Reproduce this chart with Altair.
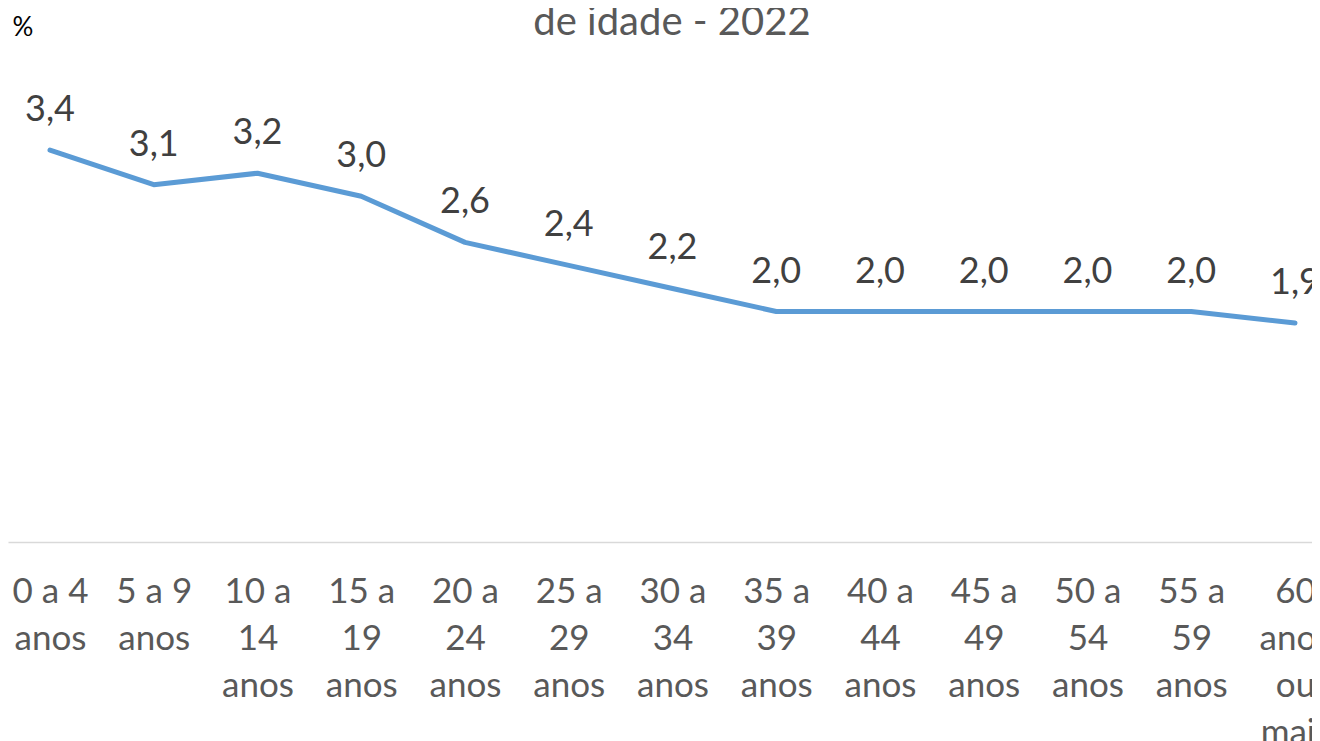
import altair as alt
import pandas as pd

categories = ["0 a 4 anos", "5 a 9 anos", "10 a 14 anos", "15 a 19 anos", "20 a 24 anos",
              "25 a 29 anos", "30 a 34 anos", "35 a 39 anos", "40 a 44 anos", "45 a 49 anos",
              "50 a 54 anos", "55 a 59 anos", "60 anos ou mais"]
label_lines = ["0 a 4|anos", "5 a 9|anos", "10 a|14|anos", "15 a|19|anos", "20 a|24|anos",
               "25 a|29|anos", "30 a|34|anos", "35 a|39|anos", "40 a|44|anos", "45 a|49|anos",
               "50 a|54|anos", "55 a|59|anos", "60|anos|ou|mais"]
values = [3.4, 3.1, 3.2, 3.0, 2.6, 2.4, 2.2, 2.0, 2.0, 2.0, 2.0, 2.0, 1.9]

df = pd.DataFrame({"grupo": categories, "valor": values})

label_map = "{" + ",".join(f"'{c}': '{l}'" for c, l in zip(categories, label_lines)) + "}"

FONT = "Lato"

x_enc = alt.X(
    "grupo:N",
    sort=categories,
    scale=alt.Scale(type="point", padding=0.2844, align=0.712),
    axis=alt.Axis(
        title=None,
        labelAngle=0,
        labelFont=FONT,
        labelFontSize=35,
        labelColor="#595959",
        labelLineHeight=47,
        labelPadding=32,
        labelLimit=0,
        labelOverlap=False,
        labelExpr=f"split({label_map}[datum.label], '|')",
        ticks=False,
        domainColor="#D9D9D9",
        domainWidth=1.5,
        grid=False,
    ),
)

y_enc = alt.Y(
    "valor:Q",
    scale=alt.Scale(domain=[0, 4]),
    axis=alt.Axis(
        title="%",
        titleAngle=0,
        titleAlign="left",
        titleBaseline="alphabetic",
        titleX=4,
        titleY=-46,
        titleFont=FONT,
        titleFontSize=26,
        titleFontWeight="normal",
        titleColor="#000000",
        labels=False,
        ticks=False,
        domain=False,
        grid=False,
    ),
)

base = alt.Chart(df).encode(x=x_enc, y=y_enc)

line = base.mark_line(color="#5B9BD5", strokeWidth=5, strokeCap="round", strokeJoin="round")

labels = base.transform_calculate(
    rotulo="replace(format(datum.valor, '.1f'), '.', ',')"
).mark_text(
    font=FONT, fontSize=36, color="#404040", baseline="alphabetic", align="center", dy=-29
).encode(text="rotulo:N")

chart = (line + labels).properties(
    width=1304,
    height=461,
    padding={"left": 0, "top": 73, "right": 0, "bottom": 199},
    autosize=alt.AutoSizeParams(type="none"),
    title=alt.TitleParams(
        text="de idade - 2022",
        font=FONT,
        fontSize=40,
        fontWeight="normal",
        color="#595959",
        anchor="middle",
        baseline="alphabetic",
        dx=12,
        dy=65,
    ),
).configure_view(stroke=None)

chart.save("out.html", embed_options={"renderer": "svg", "actions": False})
